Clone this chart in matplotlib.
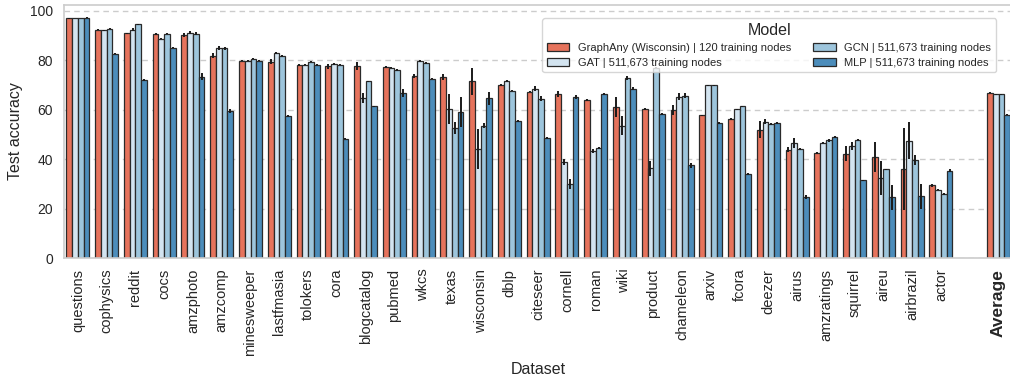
import numpy as np
import matplotlib
matplotlib.use("Agg")
import matplotlib.pyplot as plt
from matplotlib.patches import Patch

datasets = ["questions", "cophysics", "reddit", "cocs", "amzphoto", "amzcomp",
            "minesweeper", "lastfmasia", "tolokers", "cora", "blogcatalog", "pubmed",
            "wkcs", "texas", "wisconsin", "dblp", "citeseer", "cornell", "roman", "wiki",
            "product", "chameleon", "arxiv", "fcora", "deezer", "airus", "amzratings",
            "squirrel", "aireu", "airbrazil", "actor"]

graphany = [97.0, 92.3, 90.8, 90.6, 90.1, 81.7, 79.8, 79.3, 78.1, 77.6, 77.6, 77.3, 73.5,
            73.3, 71.5, 70.0, 67.3, 66.4, 64.0, 61.0, 60.2, 59.9, 57.7, 56.2, 52.0, 43.8,
            42.6, 42.2, 40.9, 36.0, 29.4]
graphany_err = [0.2, 0.3, 0.3, 0.5, 0.8, 1.0, 0.3, 1.0, 0.3, 1.0, 1.5, 0.4, 0.8, 1.2, 5.5,
                0.5, 0.3, 1.3, 0.3, 4.0, 0.5, 2.0, 0.3, 0.3, 3.5, 1.0, 0.3, 3.0, 6.0, 16.5, 0.5]

gat = [97.0, 92.1, 92.3, 88.6, 91.1, 84.8, 79.8, 82.9, 78.2, 78.5, 64.8, 77.0, 79.6, 60.3,
       44.2, 71.6, 68.4, 38.8, 43.5, 53.6, 36.4, 65.3, 69.8, 60.1, 55.2, 46.5, 46.6, 45.4,
       32.4, 47.4, 27.7]
gat_err = [0.1, 0.2, 0.5, 0.2, 0.5, 0.8, 0.2, 0.3, 0.3, 0.3, 2.0, 0.3, 0.3, 6.0, 8.0, 0.3,
           1.0, 1.2, 0.8, 4.0, 3.0, 1.5, 0.2, 0.2, 1.0, 2.0, 0.3, 1.5, 7.0, 7.5, 0.2]

gcn = [97.0, 92.6, 94.6, 90.6, 90.7, 84.8, 80.5, 81.7, 79.4, 78.2, 71.4, 76.1, 78.9, 52.7,
       53.5, 67.7, 64.4, 30.1, 44.6, 72.8, 77.0, 65.7, 69.8, 61.3, 54.2, 44.2, 47.6, 47.8,
       35.9, 39.8, 25.9]
gcn_err = [0.1, 0.2, 0.2, 0.2, 0.5, 0.5, 0.2, 0.3, 0.3, 0.3, 0.3, 0.5, 0.3, 2.5, 1.0, 0.3,
           1.0, 2.0, 0.3, 1.0, 0.3, 1.0, 0.2, 0.2, 0.5, 0.5, 0.5, 0.3, 0.3, 2.0, 0.3]

mlp = [97.2, 82.5, 72.0, 85.0, 73.3, 59.4, 79.8, 57.4, 78.1, 48.3, 61.3, 66.8, 72.5, 59.0,
       64.6, 55.4, 48.5, 65.0, 66.4, 68.5, 58.3, 37.5, 54.7, 34.1, 54.7, 24.7, 48.9, 31.5,
       24.7, 25.1, 35.4]
mlp_err = [0.1, 0.2, 0.3, 0.2, 1.5, 0.8, 0.3, 0.3, 0.3, 0.3, 0.3, 1.5, 0.3, 6.0, 2.5, 0.3,
           0.3, 0.8, 0.3, 0.5, 0.3, 1.0, 0.3, 0.3, 0.3, 0.8, 0.5, 0.3, 5.0, 5.0, 0.5]

average = [66.9, 66.3, 66.3, 57.9]
average_err = [0.3, 0.2, 0.2, 0.2]

models = ["GraphAny (Wisconsin) | 120 training nodes", "GAT | 511,673 training nodes",
          "GCN | 511,673 training nodes", "MLP | 511,673 training nodes"]
colors = ["#E6735C", "#D3E4F0", "#9DC5DC", "#4C8DBB"]

plt.rcParams["font.family"] = ["Liberation Sans", "DejaVu Sans"]

fig = plt.figure(figsize=(10.1, 3.77), dpi=100)
ax = fig.add_axes([63.5 / 1010, (377 - 258.3) / 377, 949.4 / 1010, 253.6 / 377])

series = [(graphany, graphany_err), (gat, gat_err), (gcn, gcn_err), (mlp, mlp_err)]
n = len(datasets)
pos = np.arange(n)
avg_pos = n + 1
width = 0.2
for k, ((vals, errs), col) in enumerate(zip(series, colors)):
    off = (k - 1.5) * width
    x = np.append(pos + off, avg_pos + off)
    y = np.append(vals, average[k])
    ax.bar(x, y, width=width, color=col, edgecolor="#2a2a2a", linewidth=0.9, zorder=2)
for k, ((vals, errs), col) in enumerate(zip(series, colors)):
    off = (k - 1.5) * width
    x = np.append(pos + off, avg_pos + off)
    y = np.append(vals, average[k])
    e = np.append(errs, average_err[k])
    ax.errorbar(x, y, yerr=e, fmt="none", ecolor="#1a1a1a", elinewidth=1.4, capsize=0, zorder=3)

ax.set_xlim(-0.5, n + 1.5)
ax.set_ylim(0, 102.4)
ax.set_yticks([0, 20, 40, 60, 80, 100])
ax.tick_params(axis="y", labelsize=10, length=0, pad=7.5, colors="#262626")
ax.set_xticks(list(pos) + [avg_pos])
ax.set_xticklabels(datasets + ["Average"], rotation=90, fontsize=10.5, color="#262626")
ax.tick_params(axis="x", length=0, pad=7.5)
lbl = ax.get_xticklabels()[-1]
lbl.set_fontweight("bold")
lbl.set_fontsize(12.5)

ax.grid(axis="y", linestyle=(0, (4, 3)), color="#cccccc", linewidth=1.0, zorder=0)
ax.set_axisbelow(True)
for s in ax.spines.values():
    s.set_color("#cccccc")
    s.set_linewidth(1.2)

ax.set_ylabel("Test accuracy", fontsize=11.5, color="#262626", labelpad=5)
ax.set_xlabel("Dataset", fontsize=11.5, color="#262626")

handles = [Patch(facecolor=c, edgecolor="#2a2a2a", linewidth=0.9) for c in colors]
leg = ax.legend(handles, models, title="Model", ncol=2, loc="upper right",
                bbox_to_anchor=(0.982, 0.946), borderaxespad=0, fontsize=8,
                title_fontsize=11.5, frameon=True, framealpha=0.8, edgecolor="#cccccc",
                columnspacing=2.0, labelspacing=0.45)
for t in leg.get_texts():
    t.set_color("#262626")
leg.get_title().set_color("#262626")

fig.savefig("out.png", dpi=100)
